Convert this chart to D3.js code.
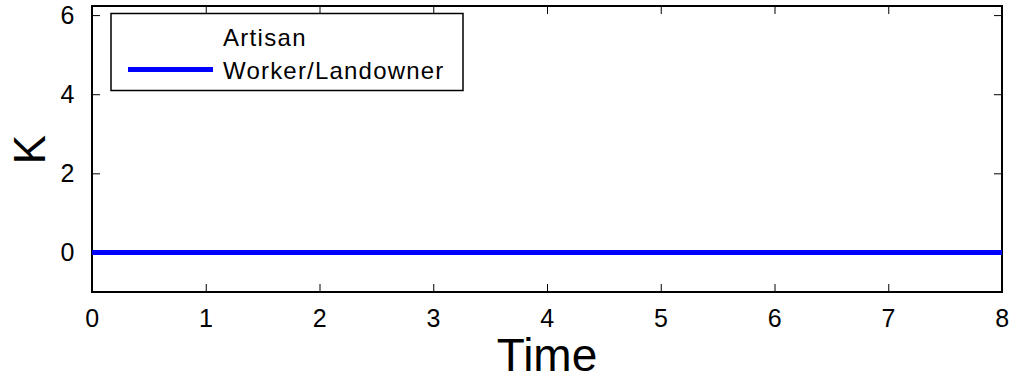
<!DOCTYPE html>
<html>
<head>
<meta charset="utf-8">
<script src="https://cdn.jsdelivr.net/npm/d3@7"></script>
<style>
  body { margin: 0; background: #fff; }
  svg { display: block; font-family: Arial, "Liberation Sans", sans-serif; }
  .axis text { font-size: 25px; fill: #000; letter-spacing: 0.5px; }
  .axis path, .axis line { stroke: #000; }
</style>
</head>
<body>
<svg id="chart"></svg>
<script>
// data
const seriesNames = ['Artisan', 'Worker/Landowner'];
const times = [0, 1, 2, 3, 4, 5, 6, 7, 8];
const workerK = [0, 0, 0, 0, 0, 0, 0, 0, 0];
const xTicks = [0, 1, 2, 3, 4, 5, 6, 7, 8];
const yTicks = [0, 2, 4, 6];

const width = 1014, height = 378;
const margin = {top: 6, right: 12, bottom: 86, left: 92};
const innerW = width - margin.left - margin.right;
const innerH = height - margin.top - margin.bottom;

const svg = d3.select('#chart')
  .attr('width', width)
  .attr('height', height);

const chart = svg.append('g')
  .attr('transform', `translate(${margin.left},${margin.top})`);

const xScale = d3.scaleLinear().domain([0, 8]).range([0, innerW]);
const yScale = d3.scaleLinear().domain([-1, 6.23]).range([innerH, 0]);

// inward ticks, like matlab
const xAxis = d3.axisBottom(xScale).tickValues(xTicks).tickSize(-8).tickSizeOuter(0).tickPadding(17);
const yAxis = d3.axisLeft(yScale).tickValues(yTicks).tickSize(-8).tickSizeOuter(0).tickPadding(17);

const xAxisG = chart.append('g')
  .attr('class', 'axis x-axis')
  .attr('transform', `translate(0,${innerH})`)
  .call(xAxis);

const yAxisG = chart.append('g')
  .attr('class', 'axis y-axis')
  .call(yAxis);

// mirror ticks on top and right
chart.append('g')
  .attr('class', 'axis')
  .call(d3.axisTop(xScale).tickValues(xTicks).tickSize(-8).tickSizeOuter(0).tickFormat(''));
chart.append('g')
  .attr('class', 'axis')
  .attr('transform', `translate(${innerW},0)`)
  .call(d3.axisRight(yScale).tickValues(yTicks).tickSize(-8).tickSizeOuter(0).tickFormat(''));

chart.selectAll('.axis line').attr('stroke-width', 1);
chart.selectAll('.axis path').attr('stroke-width', 0);

// box
chart.append('rect')
  .attr('width', innerW)
  .attr('height', innerH)
  .attr('fill', 'none')
  .attr('stroke', '#000')
  .attr('stroke-width', 2);

// series line
const line = d3.line()
  .x((d, i) => xScale(times[i]))
  .y(d => yScale(d));

chart.append('path')
  .datum(workerK)
  .attr('d', line)
  .attr('fill', 'none')
  .attr('stroke', '#0000ff')
  .attr('stroke-width', 5);

// axis titles
svg.append('text')
  .attr('x', margin.left + innerW / 2)
  .attr('y', 371)
  .attr('text-anchor', 'middle')
  .style('font-size', '46px')
  .text('Time');

svg.append('text')
  .attr('transform', `translate(45,${margin.top + yScale(2.6)}) rotate(-90)`)
  .attr('text-anchor', 'middle')
  .style('font-size', '44px')
  .text('K');

// legend
const legend = svg.append('g');
legend.append('rect')
  .attr('x', 111)
  .attr('y', 13.5)
  .attr('width', 352)
  .attr('height', 77)
  .attr('fill', '#fff')
  .attr('stroke', '#000')
  .attr('stroke-width', 1.5);

legend.append('text')
  .attr('x', 223)
  .attr('y', 46)
  .style('font-size', '24px')
  .style('letter-spacing', '1.3px')
  .text(seriesNames[0]);

legend.append('line')
  .attr('x1', 128).attr('x2', 213)
  .attr('y1', 69.5).attr('y2', 69.5)
  .attr('stroke', '#0000ff')
  .attr('stroke-width', 5);

legend.append('text')
  .attr('x', 223)
  .attr('y', 79)
  .style('font-size', '24px')
  .style('letter-spacing', '1.2px')
  .text(seriesNames[1]);
</script>
</body>
</html>
